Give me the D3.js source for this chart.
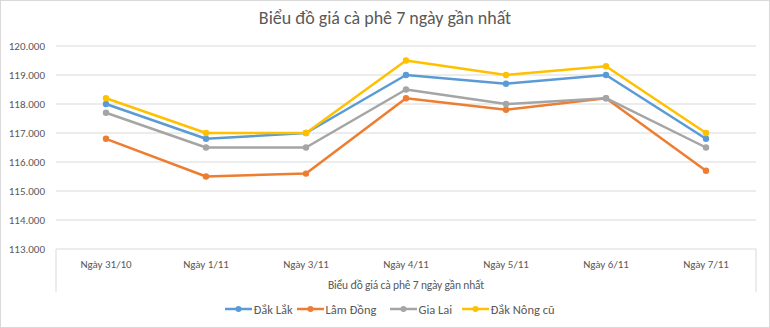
<!DOCTYPE html>
<html><head><meta charset="utf-8">
<script src="https://cdn.jsdelivr.net/npm/d3@7"></script>
<style>
body{margin:0;background:#fff;}
svg{display:block;font-family:Carlito,Calibri,"Liberation Sans Narrow","DejaVu Sans Condensed",sans-serif;}
</style></head><body>
<script>
const categories = ["Ngày 31/10","Ngày 1/11","Ngày 3/11","Ngày 4/11","Ngày 5/11","Ngày 6/11","Ngày 7/11"];
const seriesNames = ["Đắk Lắk","Lâm Đồng","Gia Lai","Đắk Nông cũ"];
const dakLak   = [118.0,116.8,117.0,119.0,118.7,119.0,116.8];
const lamDong  = [116.8,115.5,115.6,118.2,117.8,118.2,115.7];
const giaLai   = [117.7,116.5,116.5,118.5,118.0,118.2,116.5];
const dakNong  = [118.2,117.0,117.0,119.5,119.0,119.3,117.0];
const yTicks   = [113,114,115,116,117,118,119,120];
const colors   = ["#5B9BD5","#ED7D31","#A5A5A5","#FFC000"];
const title = "Biểu đồ giá cà phê 7 ngày gần nhất";

const W=770,H=328;
const svg=d3.select("body").append("svg").attr("width",W).attr("height",H);
svg.append("rect").attr("x",0.5).attr("y",0.5).attr("width",W-1).attr("height",H-1).attr("fill","#fff").attr("stroke","#d9d9d9");

const x=d3.scaleBand().domain(categories).range([56,756]);
const y=d3.scaleLinear().domain([113,120]).range([249,46]);

svg.append("text").attr("x",385).attr("y",24).attr("text-anchor","middle")
  .attr("font-size",18).attr("fill","#595959").text(title);

svg.append("g").selectAll("line").data(yTicks.filter(d=>d>113)).join("line")
  .attr("x1",56).attr("x2",756).attr("y1",d=>y(d)).attr("y2",d=>y(d))
  .attr("stroke","#d9d9d9").attr("stroke-width",1);

const fmt=d=>d3.format(".3f")(d);
svg.append("g").selectAll("text").data(yTicks).join("text")
  .attr("x",45).attr("y",d=>y(d)+4).attr("text-anchor","end")
  .attr("font-size",11).attr("fill","#595959").text(d=>fmt(d));

svg.append("path").attr("d",`M56,292V${y(113)}H756V292`).attr("fill","none").attr("stroke","#d9d9d9");
svg.append("g").selectAll("text").data(categories).join("text")
  .attr("x",d=>x(d)+x.bandwidth()/2).attr("y",268).attr("text-anchor","middle")
  .attr("font-size",11).attr("fill","#595959").text(d=>d);
svg.append("text").attr("x",406).attr("y",289).attr("text-anchor","middle")
  .attr("font-size",11.5).attr("letter-spacing",-0.15).attr("fill","#595959").text(title);

const data=[dakLak,lamDong,giaLai,dakNong];
const line=d3.line().x((d,i)=>x(categories[i])+x.bandwidth()/2).y(d=>y(d));
data.forEach((vals,k)=>{
  const g=svg.append("g");
  g.append("path").datum(vals).attr("d",line).attr("fill","none")
    .attr("stroke",colors[k]).attr("stroke-width",2.5).attr("stroke-linejoin","round");
  g.selectAll("circle").data(vals).join("circle")
    .attr("cx",(d,i)=>x(categories[i])+x.bandwidth()/2).attr("cy",d=>y(d)).attr("r",3.2).attr("fill",colors[k]);
});

const legX=[225,297,390,462];
const lg=svg.append("g");
seriesNames.forEach((n,k)=>{
  const g=lg.append("g").attr("transform",`translate(${legX[k]},309)`);
  g.append("line").attr("x1",0).attr("x2",27).attr("stroke",colors[k]).attr("stroke-width",2.5);
  g.append("circle").attr("cx",13.5).attr("r",3).attr("fill",colors[k]);
  g.append("text").attr("x",28.5).attr("y",4.5).attr("font-size",12.5).attr("fill","#595959").text(n);
});
</script></body></html>
